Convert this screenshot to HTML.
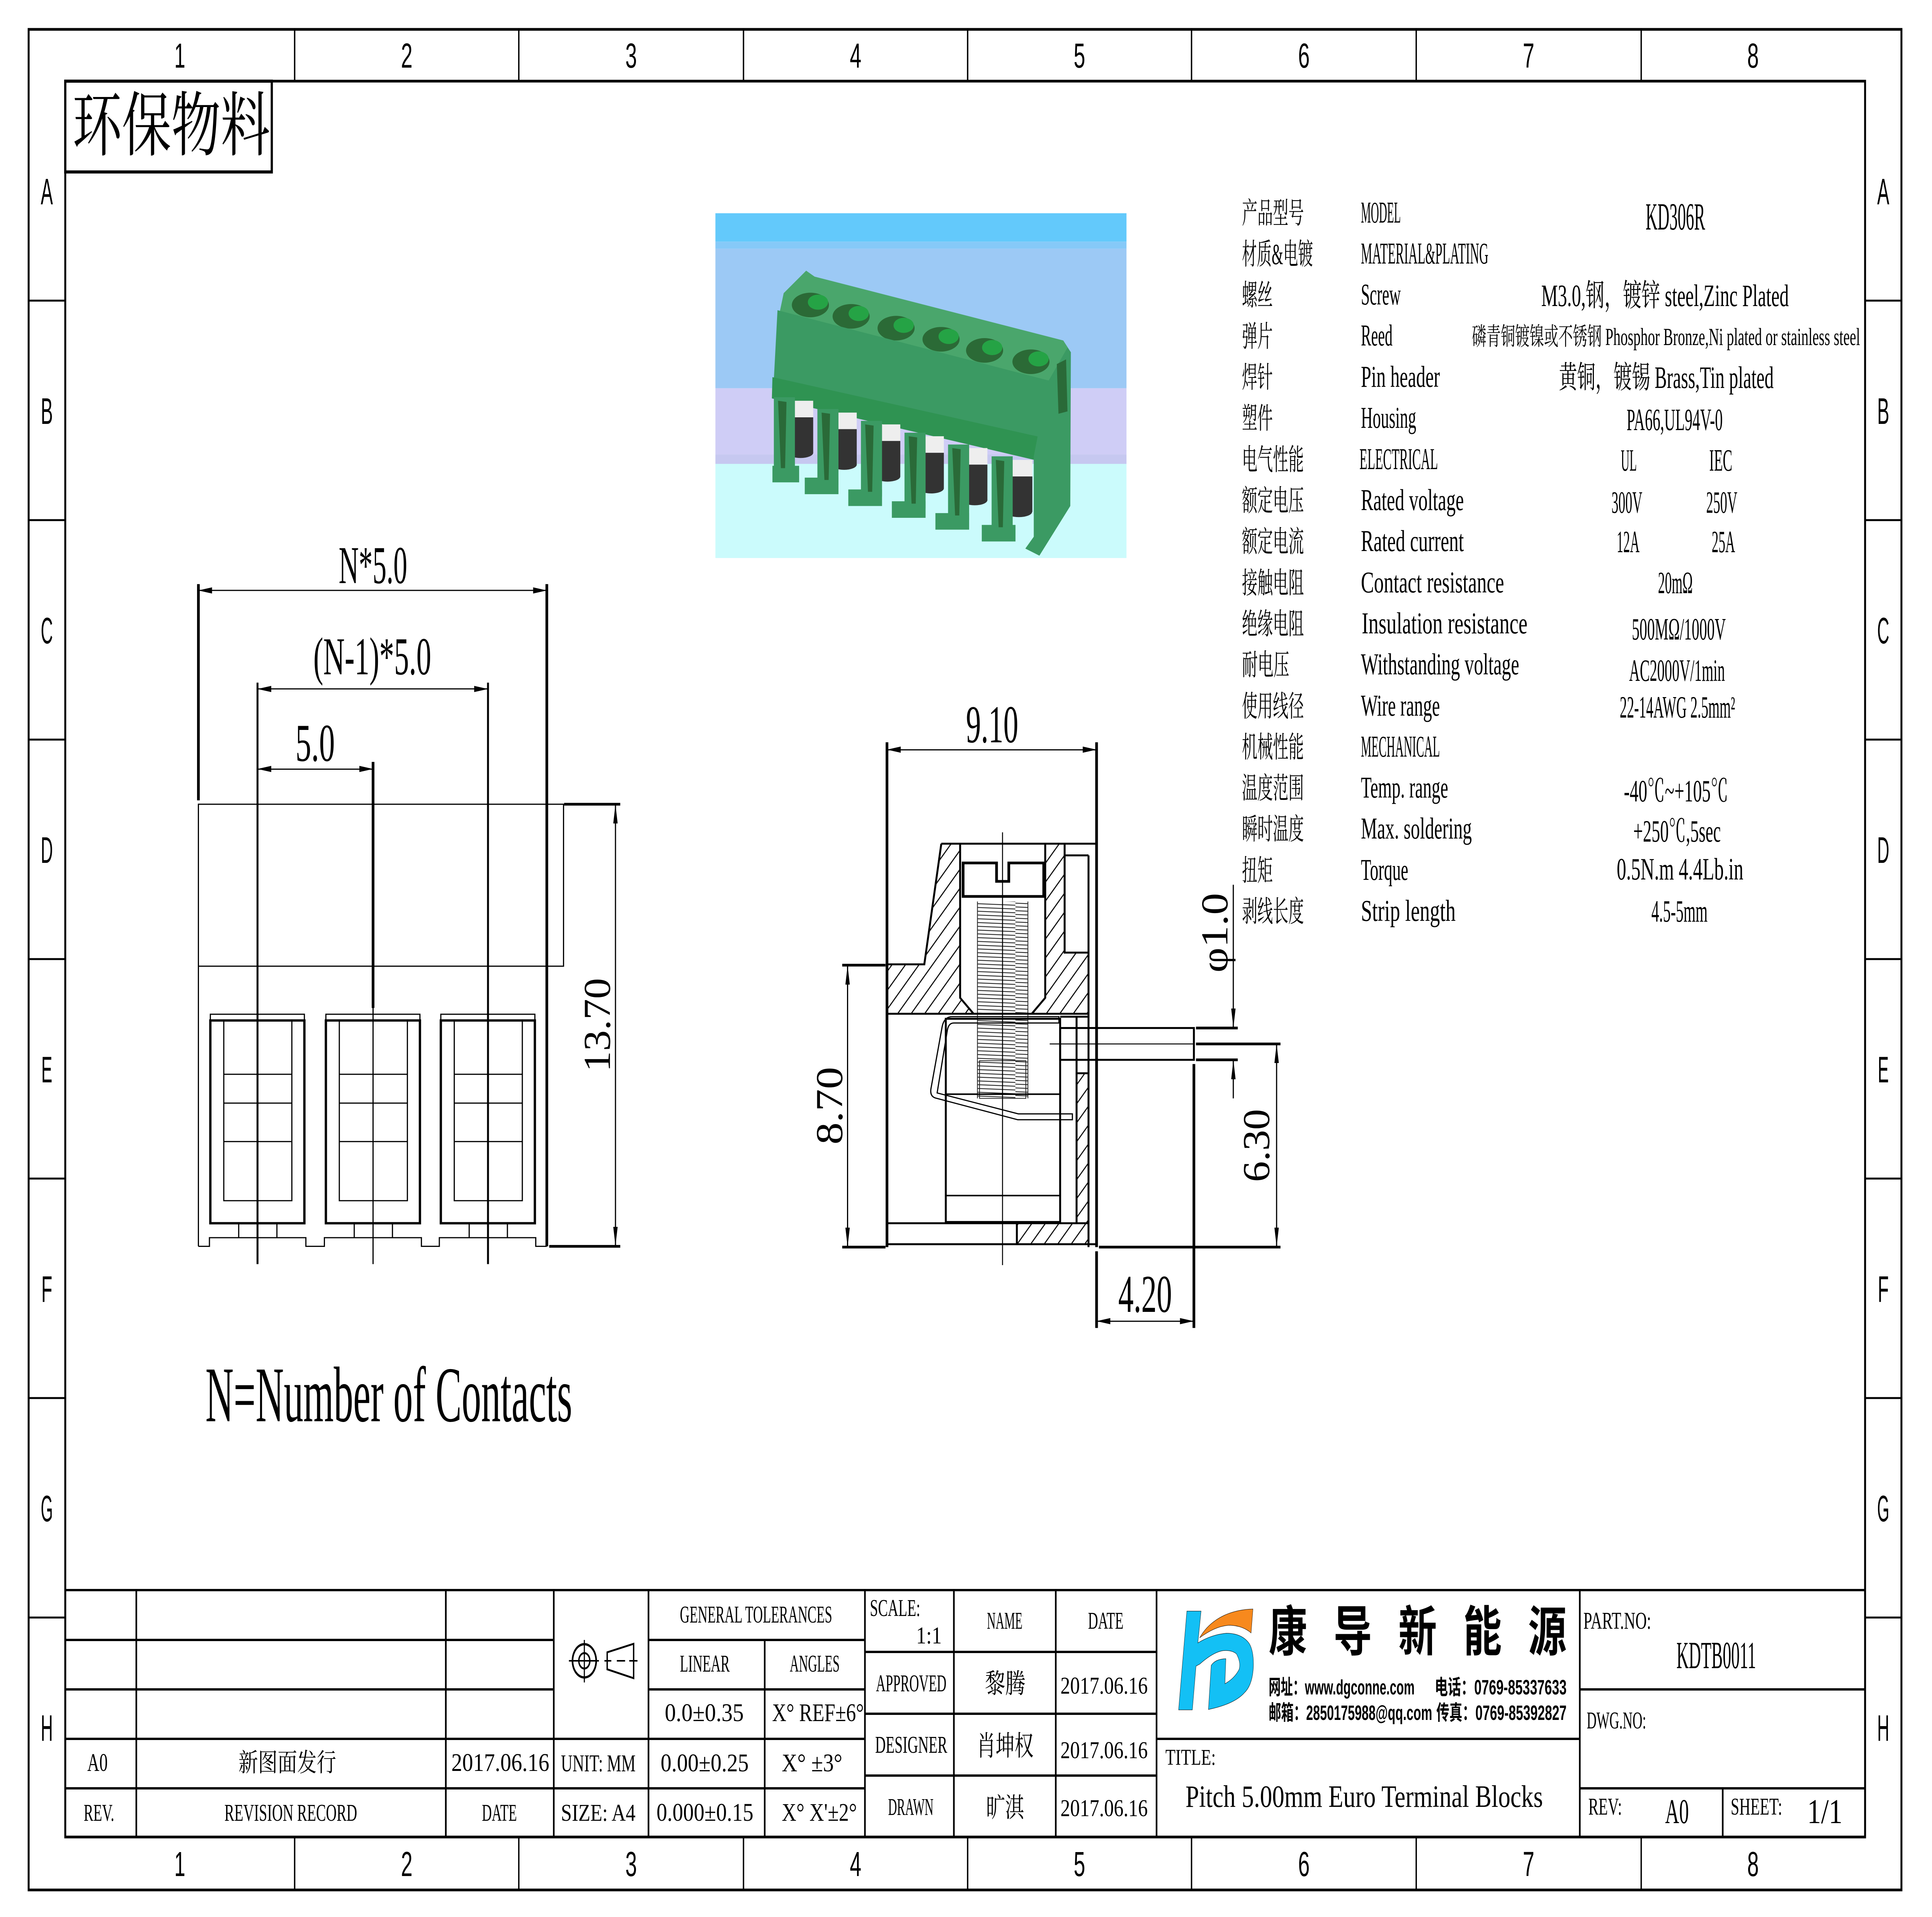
<!DOCTYPE html>
<html><head><meta charset="utf-8">
<style>
html,body{margin:0;padding:0;background:#fff;width:100%;height:100%;overflow:hidden;}
svg{display:block;position:fixed;left:0;top:0;width:100%;height:100%;}
.ns *{vector-effect:non-scaling-stroke;}
.sf{font-family:"Liberation Serif","Noto Serif CJK SC",serif;}
.ss{font-family:"Liberation Sans","Noto Sans CJK SC",sans-serif;}
.cj{font-family:"Liberation Serif","Noto Serif CJK SC",serif;}
</style></head>
<body>
<svg xmlns="http://www.w3.org/2000/svg" viewBox="0 0 7016 4961" preserveAspectRatio="none" overflow="hidden">
<defs>
<pattern id="hatch" patternUnits="userSpaceOnUse" width="32" height="32" patternTransform="rotate(45)">
<line x1="16" y1="0" x2="16" y2="32" stroke="#000" stroke-width="3"/>
</pattern>
<pattern id="thr" patternUnits="userSpaceOnUse" width="170" height="9">
<path d="M0,1 L170,6" stroke="#222" stroke-width="2" fill="none"/>
</pattern>
</defs>
<rect width="7016" height="4961" fill="#fff"/>

<!-- ===== FRAME ===== -->
<g stroke="#000" fill="none">
<rect x="104" y="76" width="6801" height="4815" stroke-width="7"/>
<rect x="237" y="210" width="6536" height="4544" stroke-width="7"/>
<path stroke-width="5" d="M1070,76V210 M1884,76V210 M2700,76V210 M3514,76V210 M4327,76V210 M5143,76V210 M5960,76V210
M1070,4754V4891 M1884,4754V4891 M2700,4754V4891 M3514,4754V4891 M4327,4754V4891 M5143,4754V4891 M5960,4754V4891
M104,778H237 M104,1346H237 M104,1914H237 M104,2482H237 M104,3050H237 M104,3618H237 M104,4186H237
M6773,778H6905 M6773,1346H6905 M6773,1914H6905 M6773,2482H6905 M6773,3050H6905 M6773,3618H6905 M6773,4186H6905"/>
</g>
<g class="ss" font-size="90" text-anchor="middle" fill="#000">
<text x="653" y="175" textLength="40" lengthAdjust="spacingAndGlyphs">1</text>
<text x="1477" y="175" textLength="42" lengthAdjust="spacingAndGlyphs">2</text>
<text x="2292" y="175" textLength="42" lengthAdjust="spacingAndGlyphs">3</text>
<text x="3107" y="175" textLength="42" lengthAdjust="spacingAndGlyphs">4</text>
<text x="3920" y="175" textLength="42" lengthAdjust="spacingAndGlyphs">5</text>
<text x="4735" y="175" textLength="42" lengthAdjust="spacingAndGlyphs">6</text>
<text x="5551" y="175" textLength="42" lengthAdjust="spacingAndGlyphs">7</text>
<text x="6366" y="175" textLength="42" lengthAdjust="spacingAndGlyphs">8</text>
<text x="653" y="4855" textLength="40" lengthAdjust="spacingAndGlyphs">1</text>
<text x="1477" y="4855" textLength="42" lengthAdjust="spacingAndGlyphs">2</text>
<text x="2292" y="4855" textLength="42" lengthAdjust="spacingAndGlyphs">3</text>
<text x="3107" y="4855" textLength="42" lengthAdjust="spacingAndGlyphs">4</text>
<text x="3920" y="4855" textLength="42" lengthAdjust="spacingAndGlyphs">5</text>
<text x="4735" y="4855" textLength="42" lengthAdjust="spacingAndGlyphs">6</text>
<text x="5551" y="4855" textLength="42" lengthAdjust="spacingAndGlyphs">7</text>
<text x="6366" y="4855" textLength="42" lengthAdjust="spacingAndGlyphs">8</text>
</g>
<g class="ss" font-size="96" text-anchor="middle" fill="#000">
<text x="170" y="529" textLength="44" lengthAdjust="spacingAndGlyphs">A</text>
<text x="170" y="1097" textLength="44" lengthAdjust="spacingAndGlyphs">B</text>
<text x="170" y="1665" textLength="44" lengthAdjust="spacingAndGlyphs">C</text>
<text x="170" y="2233" textLength="44" lengthAdjust="spacingAndGlyphs">D</text>
<text x="170" y="2801" textLength="40" lengthAdjust="spacingAndGlyphs">E</text>
<text x="170" y="3369" textLength="40" lengthAdjust="spacingAndGlyphs">F</text>
<text x="170" y="3937" textLength="44" lengthAdjust="spacingAndGlyphs">G</text>
<text x="170" y="4505" textLength="44" lengthAdjust="spacingAndGlyphs">H</text>
<text x="6839" y="529" textLength="44" lengthAdjust="spacingAndGlyphs">A</text>
<text x="6839" y="1097" textLength="44" lengthAdjust="spacingAndGlyphs">B</text>
<text x="6839" y="1665" textLength="44" lengthAdjust="spacingAndGlyphs">C</text>
<text x="6839" y="2233" textLength="44" lengthAdjust="spacingAndGlyphs">D</text>
<text x="6839" y="2801" textLength="40" lengthAdjust="spacingAndGlyphs">E</text>
<text x="6839" y="3369" textLength="40" lengthAdjust="spacingAndGlyphs">F</text>
<text x="6839" y="3937" textLength="44" lengthAdjust="spacingAndGlyphs">G</text>
<text x="6839" y="4505" textLength="44" lengthAdjust="spacingAndGlyphs">H</text>
</g>

<!-- 环保物料 box -->
<rect x="237" y="210" width="750" height="235" fill="none" stroke="#000" stroke-width="8"/>
<text class="cj" x="263" y="388" font-size="182" textLength="718" lengthAdjust="spacingAndGlyphs" fill="#000">环保物料</text>

<!-- ===== PRODUCT IMAGE ===== -->
<g transform="translate(2550 520) scale(1.0204 0.612)">
<rect x="47" y="52" width="1463" height="120" fill="#63c9fb"/>
<rect x="47" y="172" width="1463" height="30" fill="#86c9f8"/>
<rect x="47" y="202" width="1463" height="590" fill="#9cc9f5"/>
<rect x="47" y="792" width="1463" height="280" fill="#cfcdf6"/>
<rect x="47" y="1072" width="1463" height="40" fill="#c6c8f0"/>
<rect x="47" y="1112" width="1463" height="398" fill="#cbfbfc"/>
<polygon points="275,475 290,390 370,295 400,320 1285,590 1312,640 1240,770" fill="#4aa66c"/>
<g fill="#2b6a36">
<ellipse cx="385" cy="440" rx="66" ry="52"/>
<ellipse cx="530" cy="488" rx="66" ry="52"/>
<ellipse cx="690" cy="538" rx="66" ry="52"/>
<ellipse cx="850" cy="585" rx="66" ry="52"/>
<ellipse cx="1005" cy="632" rx="66" ry="52"/>
<ellipse cx="1170" cy="680" rx="66" ry="52"/>
</g>
<g fill="#25a345">
<ellipse cx="412" cy="428" rx="36" ry="32"/>
<ellipse cx="557" cy="476" rx="36" ry="32"/>
<ellipse cx="717" cy="526" rx="36" ry="32"/>
<ellipse cx="877" cy="573" rx="36" ry="32"/>
<ellipse cx="1032" cy="620" rx="36" ry="32"/>
<ellipse cx="1197" cy="668" rx="36" ry="32"/>
</g>
<polygon points="268,462 1235,760 1228,1015 255,755" fill="#3b9a63"/>
<polygon points="250,745 1228,1005 1200,1100 248,835" fill="#2f9352"/>
<g>
<rect x="305" y="845" width="90" height="70" fill="#eeeeee"/><rect x="305" y="915" width="90" height="150" fill="#333"/><ellipse cx="350" cy="1065" rx="45" ry="22" fill="#333"/>
<rect x="460" y="895" width="90" height="70" fill="#eeeeee"/><rect x="460" y="965" width="90" height="150" fill="#333"/><ellipse cx="505" cy="1115" rx="45" ry="22" fill="#333"/>
<rect x="615" y="945" width="90" height="70" fill="#eeeeee"/><rect x="615" y="1015" width="90" height="150" fill="#333"/><ellipse cx="660" cy="1165" rx="45" ry="22" fill="#333"/>
<rect x="770" y="995" width="90" height="70" fill="#eeeeee"/><rect x="770" y="1065" width="90" height="150" fill="#333"/><ellipse cx="815" cy="1215" rx="45" ry="22" fill="#333"/>
<rect x="925" y="1045" width="90" height="70" fill="#eeeeee"/><rect x="925" y="1115" width="90" height="150" fill="#333"/><ellipse cx="970" cy="1265" rx="45" ry="22" fill="#333"/>
<rect x="1080" y="1095" width="95" height="70" fill="#eeeeee"/><rect x="1080" y="1165" width="95" height="150" fill="#333"/><ellipse cx="1127" cy="1315" rx="47" ry="22" fill="#333"/>
</g>
<g fill="#3b9a63">
<rect x="255" y="830" width="75" height="320"/><rect x="250" y="1120" width="95" height="70"/>
<rect x="410" y="880" width="75" height="320"/><rect x="365" y="1170" width="120" height="70"/>
<rect x="565" y="930" width="75" height="320"/><rect x="520" y="1220" width="120" height="70"/>
<rect x="720" y="980" width="75" height="320"/><rect x="675" y="1270" width="120" height="70"/>
<rect x="875" y="1030" width="75" height="320"/><rect x="830" y="1320" width="120" height="70"/>
<rect x="1030" y="1080" width="75" height="320"/><rect x="995" y="1370" width="120" height="70"/>
</g>
<g fill="#2a6a38">
<polygon points="270,845 300,850 295,1130 280,1130"/>
<polygon points="425,895 455,900 450,1180 435,1180"/>
<polygon points="580,945 610,950 605,1230 590,1230"/>
<polygon points="735,995 765,1000 760,1280 745,1280"/>
<polygon points="890,1045 920,1050 915,1330 900,1330"/>
<polygon points="1045,1095 1075,1100 1070,1380 1055,1380"/>
</g>
<polygon points="1180,1080 1232,762 1300,620 1312,640 1310,1290 1200,1500 1150,1470 1180,1420" fill="#3b9a63"/>
<polygon points="1262,690 1295,670 1300,890 1268,900" fill="#2a6a38"/>
</g>

<!-- ===== SPEC TABLE ===== -->
<g fill="#000">
<g class="cj" font-size="76">
<text x="4510" y="578" textLength="225" lengthAdjust="spacingAndGlyphs">产品型号</text>
<text x="4510" y="684" textLength="258" lengthAdjust="spacingAndGlyphs">材质&amp;电镀</text>
<text x="4510" y="790" textLength="112" lengthAdjust="spacingAndGlyphs">螺丝</text>
<text x="4510" y="897" textLength="112" lengthAdjust="spacingAndGlyphs">弹片</text>
<text x="4510" y="1003" textLength="112" lengthAdjust="spacingAndGlyphs">焊针</text>
<text x="4510" y="1109" textLength="112" lengthAdjust="spacingAndGlyphs">塑件</text>
<text x="4510" y="1216" textLength="225" lengthAdjust="spacingAndGlyphs">电气性能</text>
<text x="4510" y="1322" textLength="225" lengthAdjust="spacingAndGlyphs">额定电压</text>
<text x="4510" y="1428" textLength="225" lengthAdjust="spacingAndGlyphs">额定电流</text>
<text x="4510" y="1535" textLength="225" lengthAdjust="spacingAndGlyphs">接触电阻</text>
<text x="4510" y="1641" textLength="225" lengthAdjust="spacingAndGlyphs">绝缘电阻</text>
<text x="4510" y="1747" textLength="172" lengthAdjust="spacingAndGlyphs">耐电压</text>
<text x="4510" y="1854" textLength="225" lengthAdjust="spacingAndGlyphs">使用线径</text>
<text x="4510" y="1960" textLength="225" lengthAdjust="spacingAndGlyphs">机械性能</text>
<text x="4510" y="2066" textLength="225" lengthAdjust="spacingAndGlyphs">温度范围</text>
<text x="4510" y="2172" textLength="225" lengthAdjust="spacingAndGlyphs">瞬时温度</text>
<text x="4510" y="2279" textLength="112" lengthAdjust="spacingAndGlyphs">扭矩</text>
<text x="4510" y="2385" textLength="225" lengthAdjust="spacingAndGlyphs">剥线长度</text>
</g>
<g class="sf" font-size="78">
<text x="4942" y="576" textLength="145" lengthAdjust="spacingAndGlyphs">MODEL</text>
<text x="4942" y="682" textLength="463" lengthAdjust="spacingAndGlyphs">MATERIAL&amp;PLATING</text>
<text x="4942" y="788" textLength="145" lengthAdjust="spacingAndGlyphs">Screw</text>
<text x="4942" y="894" textLength="115" lengthAdjust="spacingAndGlyphs">Reed</text>
<text x="4942" y="1001" textLength="287" lengthAdjust="spacingAndGlyphs">Pin header</text>
<text x="4942" y="1107" textLength="201" lengthAdjust="spacingAndGlyphs">Housing</text>
<text x="4937" y="1214" textLength="285" lengthAdjust="spacingAndGlyphs">ELECTRICAL</text>
<text x="4942" y="1320" textLength="374" lengthAdjust="spacingAndGlyphs">Rated voltage</text>
<text x="4942" y="1426" textLength="374" lengthAdjust="spacingAndGlyphs">Rated current</text>
<text x="4942" y="1533" textLength="520" lengthAdjust="spacingAndGlyphs">Contact resistance</text>
<text x="4945" y="1639" textLength="602" lengthAdjust="spacingAndGlyphs">Insulation resistance</text>
<text x="4942" y="1745" textLength="575" lengthAdjust="spacingAndGlyphs">Withstanding voltage</text>
<text x="4942" y="1852" textLength="287" lengthAdjust="spacingAndGlyphs">Wire range</text>
<text x="4942" y="1958" textLength="287" lengthAdjust="spacingAndGlyphs">MECHANICAL</text>
<text x="4942" y="2064" textLength="317" lengthAdjust="spacingAndGlyphs">Temp. range</text>
<text x="4942" y="2170" textLength="403" lengthAdjust="spacingAndGlyphs">Max. soldering</text>
<text x="4942" y="2277" textLength="172" lengthAdjust="spacingAndGlyphs">Torque</text>
<text x="4942" y="2383" textLength="344" lengthAdjust="spacingAndGlyphs">Strip length</text>
</g>
<g class="sf" font-size="80">
<text x="5976" y="594" font-size="100" textLength="216" lengthAdjust="spacingAndGlyphs">KD306R</text>
<text x="5597" y="792" textLength="899" lengthAdjust="spacingAndGlyphs">M3.0,钢，镀锌 steel,Zinc Plated</text>
<text x="5345" y="893" font-size="64" textLength="1410" lengthAdjust="spacingAndGlyphs">磷青铜镀镍或不锈钢 Phosphor Bronze,Ni plated or stainless steel</text>
<text x="5661" y="1004" textLength="780" lengthAdjust="spacingAndGlyphs">黄铜，镀锡 Brass,Tin plated</text>
<text x="5907" y="1113" textLength="349" lengthAdjust="spacingAndGlyphs">PA66,UL94V-0</text>
<text x="5886" y="1218" textLength="58" lengthAdjust="spacingAndGlyphs">UL</text>
<text x="6207" y="1218" textLength="84" lengthAdjust="spacingAndGlyphs">IEC</text>
<text x="5852" y="1327" textLength="112" lengthAdjust="spacingAndGlyphs">300V</text>
<text x="6196" y="1327" textLength="113" lengthAdjust="spacingAndGlyphs">250V</text>
<text x="5871" y="1429" textLength="83" lengthAdjust="spacingAndGlyphs">12A</text>
<text x="6216" y="1429" textLength="85" lengthAdjust="spacingAndGlyphs">25A</text>
<text x="6021" y="1535" textLength="126" lengthAdjust="spacingAndGlyphs">20mΩ</text>
<text x="5926" y="1655" textLength="341" lengthAdjust="spacingAndGlyphs">500MΩ/1000V</text>
<text x="5916" y="1762" textLength="348" lengthAdjust="spacingAndGlyphs">AC2000V/1min</text>
<text x="5882" y="1857" textLength="419" lengthAdjust="spacingAndGlyphs">22-14AWG 2.5mm²</text>
<text x="5897" y="2074" textLength="379" lengthAdjust="spacingAndGlyphs">-40℃~+105℃</text>
<text x="5931" y="2178" textLength="318" lengthAdjust="spacingAndGlyphs">+250℃,5sec</text>
<text x="5871" y="2276" textLength="460" lengthAdjust="spacingAndGlyphs">0.5N.m  4.4Lb.in</text>
<text x="5997" y="2385" textLength="204" lengthAdjust="spacingAndGlyphs">4.5-5mm</text>
</g>
</g>

<!-- ===== LEFT DRAWING ===== -->
<g class="ns" transform="translate(650 1350) scale(1.0842 1.2436)" fill="none" stroke="#000">
<path stroke-width="7" d="M65,130V580 M1232,130V1508 M650,500V1012 M1290,588H1478 M1240,1508H1478"/>
<path stroke-width="5" d="M263,335V1545 M1035,335V1545"/>
<path stroke-width="3" d="M650,1012V1545 M65,143H1232 M263,348H1035 M263,515H650 M1462,588V1508"/>
<path stroke-width="3" d="M65,588H1288V925H65Z M65,925V1508 M65,1508H102V1490H425V1508H487V1490H812V1508H872V1490H1195V1508H1232"/>
<g>
<rect x="105" y="1025" width="315" height="13" stroke-width="3"/>
<rect x="105" y="1038" width="315" height="422" stroke-width="6"/>
<rect x="150" y="1038" width="228" height="375" stroke-width="3"/>
<path stroke-width="3" d="M150,1150H378 M150,1210H378 M150,1290H378 M200,1460V1490 M328,1460V1490"/>
<rect x="492" y="1025" width="315" height="13" stroke-width="3"/>
<rect x="492" y="1038" width="315" height="422" stroke-width="6"/>
<rect x="537" y="1038" width="228" height="375" stroke-width="3"/>
<path stroke-width="3" d="M537,1150H765 M537,1210H765 M537,1290H765 M587,1460V1490 M715,1460V1490"/>
<rect x="877" y="1025" width="315" height="13" stroke-width="3"/>
<rect x="877" y="1038" width="315" height="422" stroke-width="6"/>
<rect x="922" y="1038" width="228" height="375" stroke-width="3"/>
<path stroke-width="3" d="M922,1150H1150 M922,1210H1150 M922,1290H1150 M972,1460V1490 M1100,1460V1490"/>
</g>
</g>
<g fill="#000">
<polygon points="720,1528 770,1520 770,1536"/>
<polygon points="1986,1528 1936,1520 1936,1536"/>
<polygon points="935,1783 985,1775 985,1791"/>
<polygon points="1772,1783 1722,1775 1722,1791"/>
<polygon points="935,1990 985,1982 985,1998"/>
<polygon points="1355,1990 1305,1982 1305,1998"/>
<polygon points="2235,2081 2227,2131 2243,2131"/>
<polygon points="2235,3225 2227,3175 2243,3175"/>
</g>
<g class="sf" fill="#000" font-size="138">
<text x="1230" y="1509" textLength="249" lengthAdjust="spacingAndGlyphs">N*5.0</text>
<text x="1138" y="1745" textLength="428" lengthAdjust="spacingAndGlyphs">(N-1)*5.0</text>
<text x="1073" y="1969" textLength="143" lengthAdjust="spacingAndGlyphs">5.0</text>
<text transform="translate(2215 2774) rotate(-90)" textLength="243" lengthAdjust="spacingAndGlyphs">13.70</text>
<text x="746" y="3678" font-size="204" textLength="1332" lengthAdjust="spacingAndGlyphs">N=Number of Contacts</text>
</g>

<!-- ===== MIDDLE DRAWING ===== -->
<g class="ns" transform="translate(2950 1780) scale(1.0842)" fill="none" stroke="#000">
<path fill="url(#hatch)" stroke="none" d="M432,372 L495,372 L495,740 L540,778 L250,778 L250,662 L375,662 Z"/>
<path fill="url(#hatch)" stroke="none" d="M780,372 L845,372 L845,632 L925,632 L925,778 L735,778 L780,740 Z"/>
<path fill="url(#hatch)" stroke="none" d="M885,920 H925 V1278 H885 Z"/>
<path fill="url(#hatch)" stroke="none" d="M685,1278 H925 V1328 H685 Z"/>
<rect x="553" y="510" width="169" height="268" fill="url(#thr)" stroke="none"/>
<rect x="553" y="790" width="169" height="190" fill="url(#thr)" stroke="none"/>
<path stroke-width="2" stroke="#222" d="M553,510V980 M722,510V980"/>
<rect x="560" y="890" width="155" height="90" stroke-width="2" stroke="#222"/>
<path stroke-width="7" d="M250,130V1335 M952,130V1335 M100,662H245 M100,1335H245 M952,1345V1528 M1278,898V1528 M960,1335H1568 M1285,850H1568 M1285,812H1425 M1285,888H1425"/>
<path stroke-width="3" d="M250,148H952 M118,662V1335 M952,1512H1278 M1555,850V1335 M1410,470V812 M1410,888V980"/>
<path stroke-width="5" d="M432,372H952 M432,372L375,660H250 M250,778H925 M495,372V740L540,778 M780,372V740L735,778 M845,372V632H925 M845,400H925 M925,400V1335 M830,785H925 M885,785V1278 M885,920H925 M250,1278H925 M685,1278V1328 M250,1328H952"/>
<rect x="447" y="790" width="383" height="485" stroke-width="5"/>
<path stroke-width="4" d="M447,970H830 M447,1212H830"/>
<rect x="830" y="812" width="448" height="76" stroke-width="5"/>
<path stroke-width="2.5" d="M795,850H1278 M637,345V1378"/>
<path stroke-width="7" d="M505,498V418H617V462H658V418H775V498Z"/>
<path stroke-width="3" d="M826,785 L468,785 Q440,785 434,812 L397,958 Q394,975 412,979 L688,1031 L871,1031 L871,1017 L690,1017 L418,967 L452,818 Q456,800 474,800 L826,800 Z"/>
</g>
<g fill="#000">
<polygon points="3221,1940 3271,1932 3271,1948"/>
<polygon points="3982,1940 3932,1932 3932,1948"/>
<polygon points="3078,2498 3070,2548 3086,2548"/>
<polygon points="3078,3227 3070,3177 3086,3177"/>
<polygon points="3982,3419 4032,3411 4032,3427"/>
<polygon points="4335,3419 4285,3411 4285,3427"/>
<polygon points="4636,2701 4628,2751 4644,2751"/>
<polygon points="4636,3227 4628,3177 4644,3177"/>
<polygon points="4479,2660 4471,2610 4487,2610"/>
<polygon points="4479,2743 4471,2793 4487,2793"/>
</g>
<g class="sf" fill="#000" font-size="138">
<text x="3508" y="1921" textLength="190" lengthAdjust="spacingAndGlyphs">9.10</text>
<text transform="translate(3058 2962) rotate(-90)" textLength="201" lengthAdjust="spacingAndGlyphs">8.70</text>
<text x="4061" y="3395" textLength="195" lengthAdjust="spacingAndGlyphs">4.20</text>
<text transform="translate(4609 3059) rotate(-90)" textLength="189" lengthAdjust="spacingAndGlyphs">6.30</text>
<text transform="translate(4457 2517) rotate(-90)" textLength="206" lengthAdjust="spacingAndGlyphs">φ1.0</text>
</g>

<!-- ===== TITLE BLOCK ===== -->
<g stroke="#000" fill="none" stroke-width="6">
<path d="M237,4115H6773 M237,4244H2011 M237,4372H2011 M2355,4244H3141 M2355,4372H3141 M5737,4372H6773 M237,4500H3141 M4200,4500H5737 M237,4628H3141 M5737,4628H6773 M3141,4275H4200 M3141,4435H4200 M3141,4595H4200"/>
<path d="M495,4115V4754 M1619,4115V4754 M2011,4115V4754 M2355,4115V4754 M2777,4244V4754 M3141,4115V4754 M3464,4115V4754 M3834,4115V4754 M4200,4115V4754 M5737,4115V4754 M6256,4628V4754"/>
</g>
<g stroke="#000" fill="none">
<circle cx="2122" cy="4298" r="43" stroke-width="6"/>
<circle cx="2122" cy="4298" r="20" stroke-width="5"/>
<path stroke-width="4" d="M2122,4244V4354 M2066,4298H2175 M2195,4298H2220 M2240,4298H2270 M2285,4298H2315"/>
<path stroke-width="5" d="M2205,4276L2301,4254V4343L2205,4320Z"/>
</g>
<g class="sf" fill="#000" font-size="62">
<text x="317" y="4583" font-size="66" textLength="74" lengthAdjust="spacingAndGlyphs">A0</text>
<text x="866" y="4584" font-size="66" textLength="355" lengthAdjust="spacingAndGlyphs">新图面发行</text>
<text x="1639" y="4583" font-size="66" textLength="356" lengthAdjust="spacingAndGlyphs">2017.06.16</text>
<text x="304" y="4712" textLength="111" lengthAdjust="spacingAndGlyphs">REV.</text>
<text x="815" y="4712" textLength="482" lengthAdjust="spacingAndGlyphs">REVISION RECORD</text>
<text x="1750" y="4712" textLength="127" lengthAdjust="spacingAndGlyphs">DATE</text>
<text x="2037" y="4584" textLength="271" lengthAdjust="spacingAndGlyphs">UNIT: MM</text>
<text x="2037" y="4712" textLength="271" lengthAdjust="spacingAndGlyphs">SIZE: A4</text>
<text x="2469" y="4199" textLength="553" lengthAdjust="spacingAndGlyphs">GENERAL TOLERANCES</text>
<text x="2469" y="4326" textLength="181" lengthAdjust="spacingAndGlyphs">LINEAR</text>
<text x="2868" y="4326" textLength="181" lengthAdjust="spacingAndGlyphs">ANGLES</text>
<text x="2414" y="4454" font-size="66" textLength="287" lengthAdjust="spacingAndGlyphs">0.0±0.35</text>
<text x="2804" y="4454" font-size="66" textLength="333" lengthAdjust="spacingAndGlyphs">X° REF±6°</text>
<text x="2399" y="4584" font-size="66" textLength="320" lengthAdjust="spacingAndGlyphs">0.00±0.25</text>
<text x="2839" y="4584" font-size="66" textLength="220" lengthAdjust="spacingAndGlyphs">X° ±3°</text>
<text x="2384" y="4712" font-size="66" textLength="352" lengthAdjust="spacingAndGlyphs">0.000±0.15</text>
<text x="2839" y="4712" font-size="66" textLength="273" lengthAdjust="spacingAndGlyphs">X° X'±2°</text>
<text x="3159" y="4182" textLength="183" lengthAdjust="spacingAndGlyphs">SCALE:</text>
<text x="3327" y="4253" textLength="93" lengthAdjust="spacingAndGlyphs">1:1</text>
<text x="3584" y="4215" textLength="129" lengthAdjust="spacingAndGlyphs">NAME</text>
<text x="3951" y="4215" textLength="129" lengthAdjust="spacingAndGlyphs">DATE</text>
<text x="3181" y="4377" textLength="256" lengthAdjust="spacingAndGlyphs">APPROVED</text>
<text x="3577" y="4381" font-size="70" textLength="147" lengthAdjust="spacingAndGlyphs">黎腾</text>
<text x="3851" y="4383" textLength="317" lengthAdjust="spacingAndGlyphs">2017.06.16</text>
<text x="3178" y="4536" textLength="262" lengthAdjust="spacingAndGlyphs">DESIGNER</text>
<text x="3547" y="4543" font-size="72" textLength="206" lengthAdjust="spacingAndGlyphs">肖坤权</text>
<text x="3851" y="4550" textLength="317" lengthAdjust="spacingAndGlyphs">2017.06.16</text>
<text x="3225" y="4697" textLength="165" lengthAdjust="spacingAndGlyphs">DRAWN</text>
<text x="3581" y="4702" font-size="70" textLength="138" lengthAdjust="spacingAndGlyphs">旷淇</text>
<text x="3851" y="4700" textLength="317" lengthAdjust="spacingAndGlyphs">2017.06.16</text>
<text x="4232" y="4567" font-size="58" textLength="183" lengthAdjust="spacingAndGlyphs">TITLE:</text>
<text x="4305" y="4676" font-size="80" textLength="1298" lengthAdjust="spacingAndGlyphs">Pitch 5.00mm Euro Terminal Blocks</text>
<text x="5750" y="4215" textLength="246" lengthAdjust="spacingAndGlyphs">PART.NO:</text>
<text x="6088" y="4317" font-size="100" textLength="289" lengthAdjust="spacingAndGlyphs">KDTB0011</text>
<text x="5762" y="4473" textLength="216" lengthAdjust="spacingAndGlyphs">DWG.NO:</text>
<text x="5768" y="4696" textLength="122" lengthAdjust="spacingAndGlyphs">REV:</text>
<text x="6047" y="4718" font-size="90" textLength="86" lengthAdjust="spacingAndGlyphs">A0</text>
<text x="6285" y="4696" textLength="187" lengthAdjust="spacingAndGlyphs">SHEET:</text>
<text x="6563" y="4718" font-size="90" textLength="128" lengthAdjust="spacingAndGlyphs">1/1</text>
</g>

<!-- logo -->
<g transform="translate(4200 4120) scale(0.33333)" stroke="#000" stroke-width="3">
<path fill="#13c0f5" d="M330,148 L485,148 L450,395 Q600,330 760,320 Q930,320 1010,400 Q1060,460 1055,580 Q1045,720 960,780 Q850,870 565,912 L595,570 Q640,520 755,518 L745,712 Q850,670 900,600 Q920,545 870,480 Q820,450 730,455 Q620,465 470,560 L430,575 L390,915 L240,915 Z"/>
<path fill="#f7891d" d="M470,355 Q560,240 740,180 Q880,135 1050,132 L1030,318 Q940,262 800,258 Q650,260 470,355 Z"/>
</g>
<g fill="#000" font-family="'Liberation Sans','Noto Sans CJK SC',sans-serif" font-weight="bold">
<text x="4607" y="4272" font-size="140" textLength="1082" lengthAdjust="spacing">康导新能源</text>
<text x="4607" y="4385" font-size="54" textLength="530" lengthAdjust="spacingAndGlyphs">网址：www.dgconne.com</text>
<text x="5210" y="4385" font-size="54" textLength="479" lengthAdjust="spacingAndGlyphs">电话：0769-85337633</text>
<text x="4607" y="4451" font-size="54" textLength="594" lengthAdjust="spacingAndGlyphs">邮箱：2850175988@qq.com</text>
<text x="5216" y="4451" font-size="54" textLength="473" lengthAdjust="spacingAndGlyphs">传真：0769-85392827</text>
</g>
</svg>
</body></html>
